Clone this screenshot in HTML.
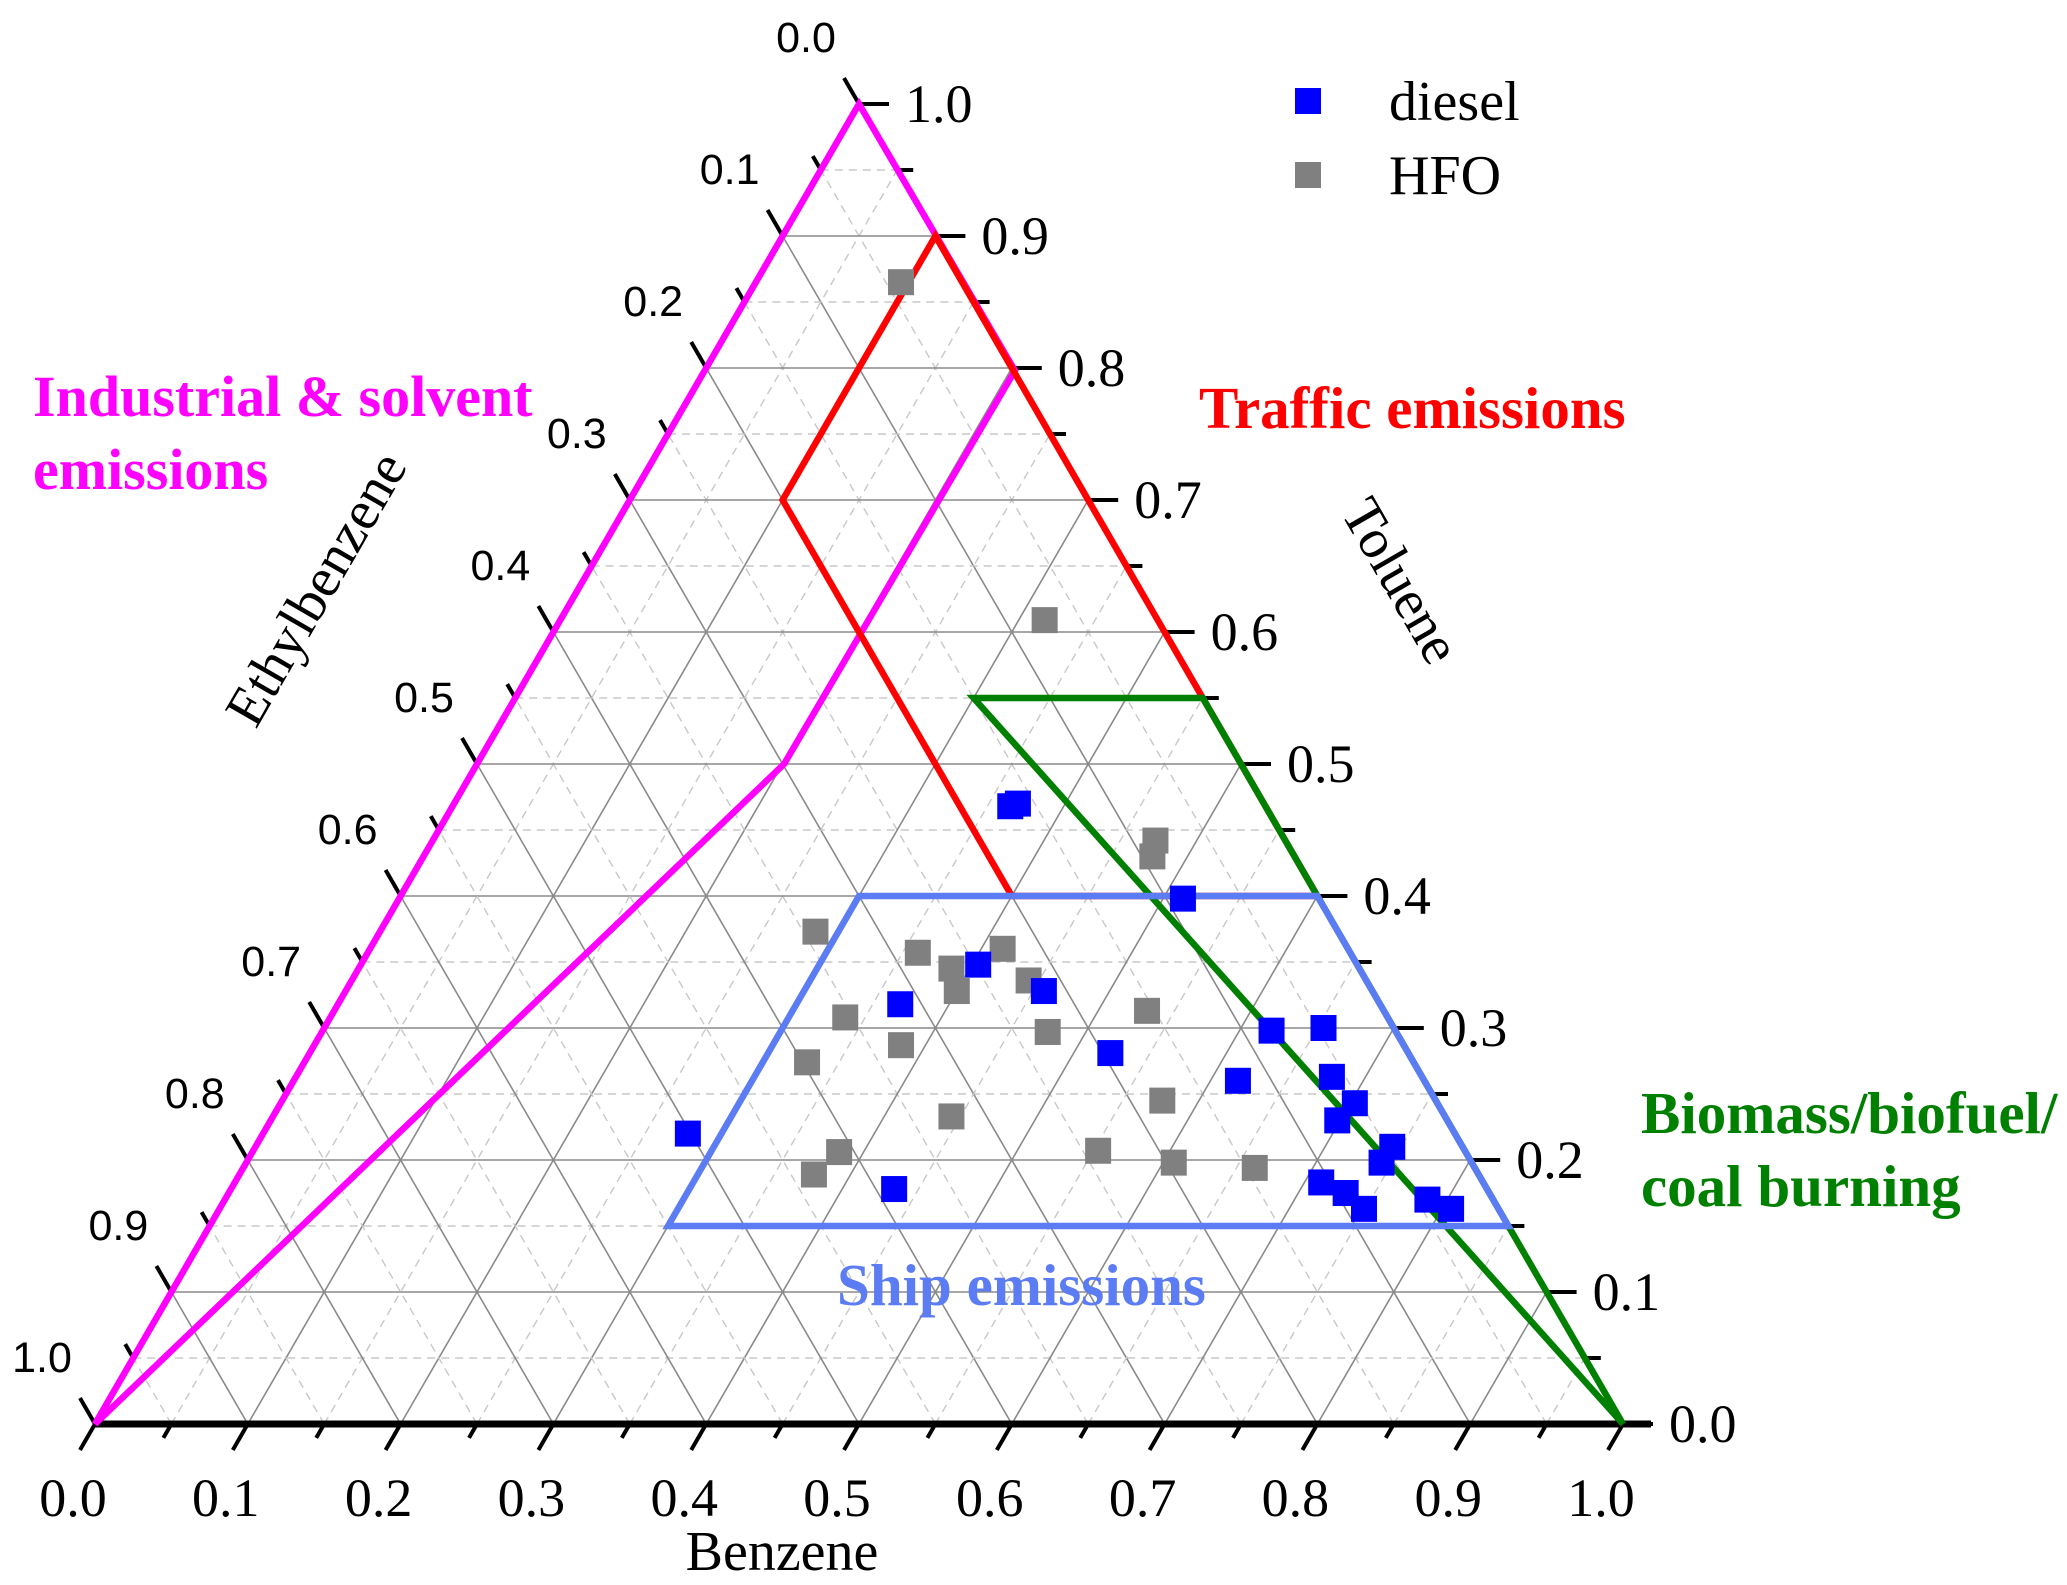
<!DOCTYPE html>
<html><head><meta charset="utf-8"><style>
html,body{margin:0;padding:0;background:#fff;}
svg{display:block;}
.serif{font-family:"Liberation Serif",serif;}
.sans{font-family:"Liberation Sans",sans-serif;}
</style></head><body>
<svg id="chart" width="2067" height="1585" viewBox="0 0 2067 1585" xmlns="http://www.w3.org/2000/svg">
<g id="grid"></g>
<g id="axes"></g>
<g id="regions"></g>
<g id="points"></g>
<g id="labels">
  <text class="serif" x="782" y="1570" font-size="56" text-anchor="middle">Benzene</text>
  <text class="serif" x="0" y="0" font-size="56" text-anchor="middle" transform="translate(1385,590) rotate(60)">Toluene</text>
  <text class="serif" x="0" y="0" font-size="56" text-anchor="middle" transform="translate(332,598) rotate(-60)">Ethylbenzene</text>
  <text class="serif" font-weight="bold" fill="#ff00ff" font-size="58" x="33" y="416">Industrial &amp; solvent</text>
  <text class="serif" font-weight="bold" fill="#ff00ff" font-size="58" x="33" y="489">emissions</text>
  <text class="serif" font-weight="bold" fill="#ff0000" font-size="59" x="1199" y="428">Traffic emissions</text>
  <text class="serif" font-weight="bold" fill="#008000" font-size="59" x="1641" y="1133">Biomass/biofuel/</text>
  <text class="serif" font-weight="bold" fill="#008000" font-size="59" x="1641" y="1206">coal burning</text>
  <text class="serif" font-weight="bold" fill="#5b7cf2" font-size="59" x="837" y="1305">Ship emissions</text>
</g>
<g id="legend">
  <rect x="1295" y="88" width="26" height="26" fill="#0000ff"/>
  <text class="serif" x="1389" y="120" font-size="56">diesel</text>
  <rect x="1295" y="162" width="26" height="26" fill="#808080"/>
  <text class="serif" x="1389" y="194" font-size="56">HFO</text>
</g>
</svg>
<script>
// data: benzene fraction and toluene fraction (ethylbenzene = 1 - B - T)
const dieselB = [0.365,0.369,0.513,0.404,0.368,0.457,0.524,0.278,0.434,0.621,0.654,0.618,0.678,0.703,0.698,0.744,0.743,0.711,0.731,0.749,0.787,0.806];
const dieselT = [0.468,0.470,0.398,0.348,0.318,0.328,0.281,0.220,0.178,0.298,0.300,0.260,0.263,0.243,0.230,0.210,0.198,0.183,0.175,0.163,0.170,0.163];
const hfoB = [0.095,0.317,0.473,0.477,0.285,0.360,0.388,0.414,0.400,0.443,0.337,0.532,0.384,0.475,0.329,0.576,0.444,0.384,0.376,0.553,0.607,0.662];
const hfoT = [0.865,0.609,0.442,0.430,0.373,0.357,0.345,0.360,0.328,0.336,0.308,0.313,0.287,0.297,0.274,0.245,0.233,0.206,0.189,0.207,0.198,0.194];
const industrialB = [0,0,0.203,0.201];
const industrialT = [0,1,0.798,0.5];
const trafficB = [0.1,0.1,0.4,0.6];
const trafficT = [0.9,0.7,0.4,0.4];
const biomassB = [0.3,0.45,1];
const biomassT = [0.55,0.55,0];
const shipB = [0.3,0.6,0.85,0.3];
const shipT = [0.4,0.4,0.15,0.15];
const tickLabels = ["0.0","0.1","0.2","0.3","0.4","0.5","0.6","0.7","0.8","0.9","1.0"];

const NS="http://www.w3.org/2000/svg";
const LX=95, LY=1424, W=1528, H=1320;
function px(B,T){return LX+W*(B+T/2);}
function py(B,T){return LY-H*T;}
function mk(tag,attrs,parent){const e=document.createElementNS(NS,tag);for(const k in attrs)e.setAttribute(k,attrs[k]);parent.appendChild(e);return e;}
const grid=document.getElementById('grid');
for(let i=1;i<20;i++){
  const v=i/20, major=i%2===0;
  const st=major?{stroke:"#8a8a8a","stroke-width":1.6}:{stroke:"#c8c8c8","stroke-width":1.4,"stroke-dasharray":"8 6"};
  let l=mk('line',Object.assign({x1:px(0,v),y1:py(0,v),x2:px(1-v,v),y2:py(1-v,v)},st),grid);
  
  
  l=mk('line',Object.assign({x1:px(v,0),y1:py(v,0),x2:px(v,1-v),y2:py(v,1-v)},st),grid);
  
  
  const s=1-v;
  l=mk('line',Object.assign({x1:px(s,0),y1:py(s,0),x2:px(0,s),y2:py(0,s)},st),grid);
  
  
}
const axes=document.getElementById('axes');
let e=mk('line',{x1:px(0,1),y1:py(0,1),x2:px(1,0),y2:py(1,0),stroke:"#333","stroke-width":2},axes);


e=mk('line',{x1:px(0,1),y1:py(0,1),x2:px(0,0),y2:py(0,0),stroke:"#333","stroke-width":2},axes);


e=mk('line',{x1:px(0,0),y1:py(0,0),x2:px(1,0)+28,y2:py(1,0),stroke:"#000","stroke-width":7},axes);


for(let i=0;i<=20;i++){
  const v=i/20, major=i%2===0, len=major?30:16, sw=4;
  let x=px(v,0),y=py(v,0);
  e=mk('line',{x1:x,y1:y,x2:x-0.5*len,y2:y+0.866*len,stroke:"#000","stroke-width":sw},axes);
  
  
  x=px(1-v,v);y=py(1-v,v);
  e=mk('line',{x1:x,y1:y,x2:x+len,y2:y,stroke:"#000","stroke-width":sw},axes);
  
  
  x=px(0,1-v);y=py(0,1-v);
  e=mk('line',{x1:x,y1:y,x2:x-0.5*len,y2:y-0.866*len,stroke:"#000","stroke-width":sw},axes);
  
  
  if(major){
    const k=i/2, lab=tickLabels[k];
    let t=mk('text',{x:px(v,0)-22,y:py(v,0)+92,"font-size":54,"text-anchor":"middle",class:"serif"},axes);
    t.textContent=lab;
    
    
    t=mk('text',{x:px(1-v,v)+46,y:py(1-v,v)+18,"font-size":54,class:"serif"},axes);
    t.textContent=lab;
    
    
    t=mk('text',{x:px(0,1-v)-53,y:py(0,1-v)-52,"font-size":43,"text-anchor":"middle",class:"sans"},axes);
    t.textContent=lab;
    
    
  }
}
const regions=document.getElementById('regions');
function poly(Bs,Ts,color,name){
  const pts=Bs.map((b,i)=>px(b,Ts[i]).toFixed(1)+","+py(b,Ts[i]).toFixed(1)).join(" ");
  const p=mk('polygon',{points:pts,fill:"none",stroke:color,"stroke-width":6.5,"stroke-linejoin":"miter"},regions);
  
  
}
poly(industrialB,industrialT,"#ff00ff","industrial-region");
poly(trafficB,trafficT,"#ff0000","traffic-region");
poly(biomassB,biomassT,"#008000","biomass-region");
poly(shipB,shipT,"#5b7cf2","ship-region");
const pg=document.getElementById('points');
const S=26;
hfoB.forEach((b,i)=>{
  const r=mk('rect',{x:px(b,hfoT[i])-S/2,y:py(b,hfoT[i])-S/2,width:S,height:S,fill:"#808080"},pg);
  
  
});
dieselB.forEach((b,i)=>{
  const r=mk('rect',{x:px(b,dieselT[i])-S/2,y:py(b,dieselT[i])-S/2,width:S,height:S,fill:"#0000ff"},pg);
  
  
});
</script>
</body></html>
